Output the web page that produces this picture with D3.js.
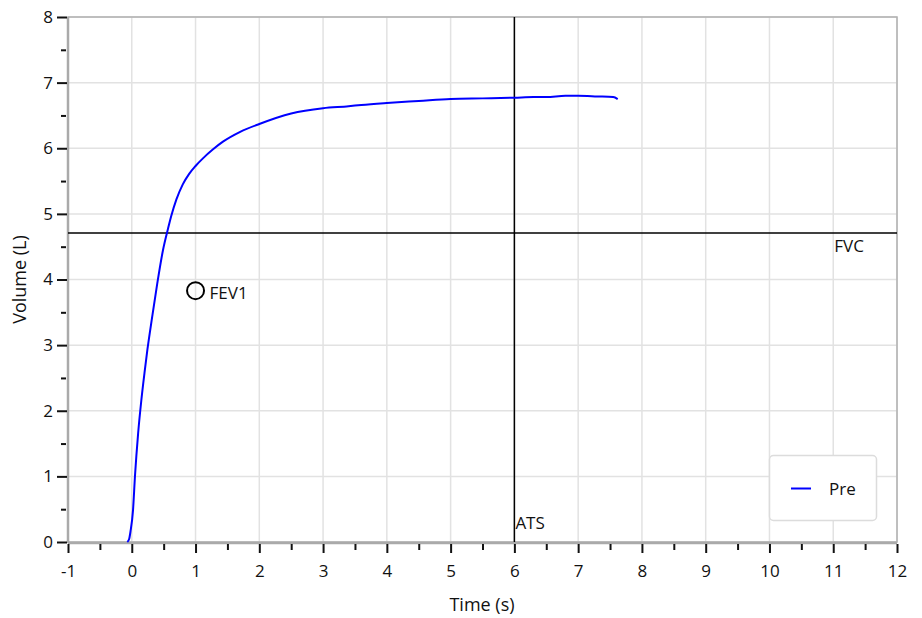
<!DOCTYPE html>
<html>
<head>
<meta charset="utf-8">
<script src="https://cdn.jsdelivr.net/npm/d3@7"></script>
<style>
  html, body { margin: 0; padding: 0; background: #fff; }
  svg { display: block; }
  text { font-family: "Open Sans", "Noto Sans", sans-serif; fill: #111; }
</style>
</head>
<body>
<svg id="chart" width="922" height="618"></svg>
<script>
// ---- data ----
const timeS = [-0.07, -0.04, -0.02, 0.02, 0.05, 0.10, 0.15, 0.20, 0.245, 0.32, 0.40, 0.49, 0.57, 0.62, 0.70, 0.80, 0.90, 1.00, 1.12, 1.27, 1.43, 1.70, 2.00, 2.50, 3.00, 3.40, 3.60, 4.00, 4.50, 5.00, 5.50, 6.00, 6.30, 6.50, 6.80, 7.00, 7.30, 7.55, 7.62];
const preVolumeL = [0, 0.05, 0.16, 0.49, 1.00, 1.66, 2.16, 2.58, 2.93, 3.43, 3.94, 4.45, 4.78, 4.97, 5.22, 5.45, 5.61, 5.73, 5.85, 5.98, 6.10, 6.25, 6.37, 6.53, 6.61, 6.64, 6.66, 6.69, 6.72, 6.75, 6.76, 6.77, 6.78, 6.78, 6.80, 6.80, 6.79, 6.78, 6.75];
const xTicks = [-1, 0, 1, 2, 3, 4, 5, 6, 7, 8, 9, 10, 11, 12];
const yTicks = [0, 1, 2, 3, 4, 5, 6, 7, 8];
const xMinorTicks = [-0.5, 0.5, 1.5, 2.5, 3.5, 4.5, 5.5, 6.5, 7.5, 8.5, 9.5, 10.5, 11.5];
const yMinorTicks = [0.5, 1.5, 2.5, 3.5, 4.5, 5.5, 6.5, 7.5];
const fvcValue = 4.71;
const atsTime = 6;
const fev1Point = { t: 1, v: 3.83, label: "FEV1" };
const seriesName = "Pre";

// ---- layout ----
const svg = d3.select("#chart");
const L = 68, R = 897, T = 17, B = 542;
const x = d3.scaleLinear().domain([-1, 12]).range([L, R]);
const y = d3.scaleLinear().domain([0, 8]).range([B, T]);
const fmt = d => String(d);

// grid
const grid = svg.append("g");
grid.selectAll(".gx").data(xTicks).join("line")
  .attr("x1", d => x(d)).attr("x2", d => x(d)).attr("y1", T).attr("y2", B)
  .attr("stroke", "#e2e2e2").attr("stroke-width", 1.5);
grid.selectAll(".gy").data(yTicks).join("line")
  .attr("x1", L).attr("x2", R).attr("y1", d => y(d)).attr("y2", d => y(d))
  .attr("stroke", "#e2e2e2").attr("stroke-width", 1.5);

// frame
svg.append("rect").attr("x", L).attr("y", T).attr("width", R - L).attr("height", B - T)
  .attr("fill", "none").attr("stroke", "#b0b0b0").attr("stroke-width", 1.5);
svg.append("line").attr("x1", L).attr("x2", L).attr("y1", T).attr("y2", B + 1)
  .attr("stroke", "#aaa").attr("stroke-width", 2.5);
svg.append("line").attr("x1", L).attr("x2", R).attr("y1", B + 1).attr("y2", B + 1)
  .attr("stroke", "#aaa").attr("stroke-width", 2.5);

// axes
const xAxis = svg.append("g").attr("transform", `translate(0,${B + 2})`)
  .call(d3.axisBottom(x).tickValues(xTicks).tickSize(9).tickPadding(12).tickFormat(fmt));
const xMinor = svg.append("g").attr("transform", `translate(0,${B + 2})`)
  .call(d3.axisBottom(x).tickValues(xMinorTicks).tickSize(6).tickFormat(""));
const yAxis = svg.append("g").attr("transform", `translate(${L - 1},0)`)
  .call(d3.axisLeft(y).tickValues(yTicks).tickSize(10).tickPadding(4).tickFormat(fmt));
const yMinor = svg.append("g").attr("transform", `translate(${L - 2},0)`)
  .call(d3.axisLeft(y).tickValues(yMinorTicks).tickSize(5).tickFormat(""));
[xAxis, xMinor, yAxis, yMinor].forEach(g => {
  g.select(".domain").remove();
  g.selectAll(".tick line").attr("stroke", "#111").attr("stroke-width", 2);
  g.selectAll(".tick text").style("font-size", "17px").style("font-family", "'Open Sans', 'Noto Sans', sans-serif").attr("fill", "#111");
});

// axis titles
svg.append("text").attr("x", 482).attr("y", 611).attr("text-anchor", "middle")
  .style("font-size", "18px").text("Time (s)");
svg.append("text").attr("transform", `translate(26,${(T + B) / 2}) rotate(-90)`)
  .attr("text-anchor", "middle").style("font-size", "18px").text("Volume (L)");

// reference lines
svg.append("line").attr("x1", L).attr("x2", R).attr("y1", y(fvcValue)).attr("y2", y(fvcValue))
  .attr("stroke", "#000").attr("stroke-width", 1.5);
svg.append("text").attr("x", x(11) + 1).attr("y", y(fvcValue) + 19).style("font-size", "17px").text("FVC");
svg.append("line").attr("x1", x(atsTime)).attr("x2", x(atsTime)).attr("y1", T).attr("y2", B)
  .attr("stroke", "#000").attr("stroke-width", 1.5);
svg.append("text").attr("x", x(atsTime) + 1).attr("y", B - 13).style("font-size", "17px").text("ATS");

// curve
const pts = timeS.map((t, i) => [t, preVolumeL[i]]);
svg.append("path").datum(pts)
  .attr("d", d3.line().x(d => x(d[0])).y(d => y(d[1])).curve(d3.curveMonotoneX))
  .attr("fill", "none").attr("stroke", "#0000ff").attr("stroke-width", 2);

// FEV1 marker
svg.append("circle").attr("cx", x(fev1Point.t)).attr("cy", y(fev1Point.v)).attr("r", 8.5)
  .attr("fill", "none").attr("stroke", "#000").attr("stroke-width", 2);
svg.append("text").attr("x", x(fev1Point.t) + 14).attr("y", y(fev1Point.v) + 8)
  .style("font-size", "17px").text(fev1Point.label);

// legend
const lg = svg.append("g");
lg.append("rect").attr("x", 769.5).attr("y", 455.5).attr("width", 107).attr("height", 65).attr("rx", 4)
  .attr("fill", "#fff").attr("stroke", "#dcdcdc").attr("stroke-width", 1.5);
lg.append("line").attr("x1", 791).attr("x2", 811).attr("y1", 488.5).attr("y2", 488.5)
  .attr("stroke", "#0000ff").attr("stroke-width", 2);
lg.append("text").attr("x", 829).attr("y", 495).style("font-size", "17px").text(seriesName);
</script>
</body>
</html>
